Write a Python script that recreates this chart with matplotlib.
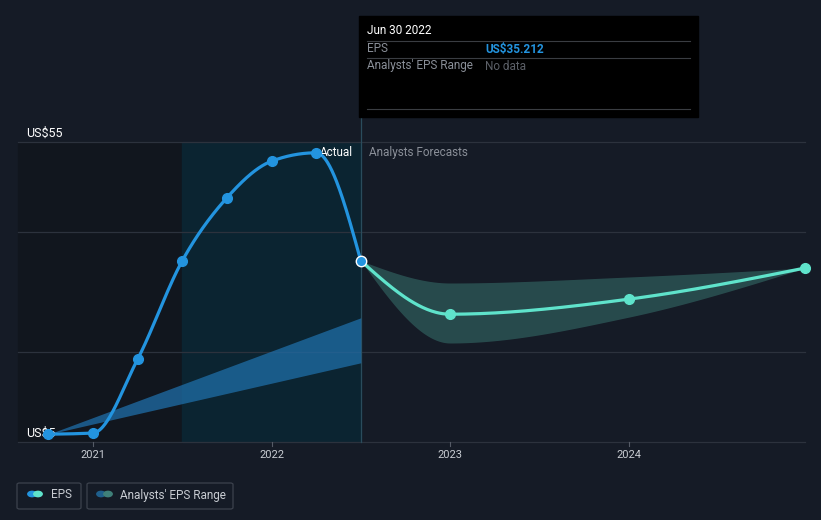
import numpy as np
import matplotlib
matplotlib.use("Agg")
import matplotlib.pyplot as plt
from matplotlib.patches import Rectangle, FancyBboxPatch

plt.rcParams['font.family'] = ['Roboto', 'DejaVu Sans']

# data (years as decimals, EPS in US$)
past_x = [2020.75, 2021.0, 2021.25, 2021.5, 2021.75, 2022.0, 2022.25, 2022.5]
past_eps = [6.3, 6.5, 18.8, 35.2, 45.7, 51.8, 53.2, 35.212]
fc_x = [2022.5, 2023.0, 2024.0, 2024.99]
fc_eps = [35.212, 26.3, 28.8, 34.0]
fc_high = [35.212, 31.5, 32.5, 34.0]
fc_low = [35.212, 21.5, 25.8, 34.0]
past_band_x = [2020.75, 2022.5]
past_band_high = [6.3, 25.7]
past_band_low = [6.3, 18.2]
grid_vals = [5, 20, 40, 55]
year_ticks = [2021, 2022, 2023, 2024]

BG = '#151b26'


def monotone(xs, ys, n=60):
    # d3 style monotoneX curve
    x = np.asarray(xs, float)
    y = np.asarray(ys, float)
    h = np.diff(x)
    s = np.diff(y) / h
    m = np.zeros(len(x))
    for i in range(1, len(x) - 1):
        p = (s[i - 1] * h[i] + s[i] * h[i - 1]) / (h[i - 1] + h[i])
        m[i] = (np.sign(s[i - 1]) + np.sign(s[i])) * min(abs(s[i - 1]), abs(s[i]), 0.5 * abs(p))
    if len(x) > 2:
        m[0] = (3 * s[0] - m[1]) / 2
        m[-1] = (3 * s[-1] - m[-2]) / 2
    else:
        m[:] = s[0]
    ox, oy = [], []
    for i in range(len(x) - 1):
        t = np.linspace(0, 1, n)
        h00 = 2 * t**3 - 3 * t**2 + 1
        h10 = t**3 - 2 * t**2 + t
        h01 = -2 * t**3 + 3 * t**2
        h11 = t**3 - t**2
        ox.append(x[i] + t * h[i])
        oy.append(h00 * y[i] + h10 * h[i] * m[i] + h01 * y[i + 1] + h11 * h[i] * m[i + 1])
    return np.concatenate(ox), np.concatenate(oy)


fig = plt.figure(figsize=(8.21, 5.20), dpi=100, facecolor=BG)
ax = fig.add_axes([0, 0, 1, 1])
ax.set_facecolor(BG)
px_per_year = 178.5
px_per_unit = 6.0
ax.set_xlim(2021 - 93 / px_per_year, 2021 + 728 / px_per_year)
ax.set_ylim(5 - 78 / px_per_unit, 5 + 442 / px_per_unit)
ax.axis('off')

x_left = 2021 - 75 / px_per_year
x_right = 2021 + 712 / px_per_year
x_split = 2021.5
x_now = 2022.5
y_bot = 5
y_top = 55

# shaded past regions
ax.add_patch(Rectangle((x_left, y_bot), x_split - x_left, y_top - y_bot, color='#11161e', zorder=0))
ax.add_patch(Rectangle((x_split, y_bot), x_now - x_split, y_top - y_bot, color='#0b2431', zorder=0))

# gridlines
for g in grid_vals:
    ax.plot([x_left, x_right], [g, g], color='#2c323d', lw=0.9, zorder=1)
ax.plot([x_now, x_now], [y_bot, 5 + (442 - 117) / px_per_unit], color='#2a4c5c', lw=0.9, zorder=1)

# y labels
ax.text(x_left + 8 / px_per_year, 55 + 2 / px_per_unit, 'US$55', color='white', fontsize=9, va='bottom')
ax.text(x_left + 8 / px_per_year, 5 + 2 / px_per_unit, 'US$5', color='white', fontsize=9, va='bottom')

# year ticks
for yr in year_ticks:
    ax.plot([yr, yr], [y_bot, y_bot - 0.7], color='#555b66', lw=0.8)
    ax.text(yr, y_bot - 13 / px_per_unit, str(yr), color='#c8ccd2', fontsize=8, ha='center', va='center')

# past analyst band
ax.fill_between(past_band_x, past_band_low, past_band_high, color='#1f6ea8', alpha=0.75, lw=0, zorder=2)

# forecast band
bx, bh = monotone(fc_x, fc_high)
_, bl = monotone(fc_x, fc_low)
ax.fill_between(bx, bl, bh, color='#2e5b5a', alpha=0.75, lw=0, zorder=2)

# lines
lx, ly = monotone(past_x, past_eps)
ax.plot(lx, ly, color='#2394df', lw=2.3, zorder=3, solid_capstyle='round')
fx, fy = monotone(fc_x, fc_eps)
ax.plot(fx, fy, color='#5fe3cb', lw=2.3, zorder=3, solid_capstyle='round')

ax.plot(past_x[:-1], past_eps[:-1], 'o', color='#2394df', ms=7, zorder=4)
ax.plot(fc_x[1:], fc_eps[1:], 'o', color='#5fe3cb', ms=7, zorder=4)
ax.plot([past_x[-1]], [past_eps[-1]], 'o', color='#2394df', mec='white', mew=1.0, ms=7.5, zorder=5)

ax.text(past_x[6] + 4 / px_per_year, past_eps[6], 'Actual', color='white', fontsize=8.5, va='center')
ax.text(x_now + 8 / px_per_year, past_eps[6], 'Analysts Forecasts', color='#8a8f98', fontsize=8.5, va='center')

# tooltip
W, H = 821, 520


def fx_(p):
    return p / W


def fy_(p):
    return 1 - p / H


fig.patches.append(Rectangle((fx_(359), fy_(117)), (698 - 359) / W, (117 - 16) / H,
                             transform=fig.transFigure, color='black', zorder=10))
for yy in [41, 58, 109]:
    fig.lines.append(plt.Line2D([fx_(367), fx_(690)], [fy_(yy), fy_(yy)], transform=fig.transFigure,
                                color='#3a3d42', lw=0.8, zorder=11))
fig.text(fx_(367), fy_(31), 'Jun 30 2022', color='white', fontsize=8.5, va='center', zorder=12)
fig.text(fx_(367), fy_(49), 'EPS', color='#8a8f98', fontsize=8.5, va='center', zorder=12)
fig.text(fx_(485), fy_(49), 'US$35.212', color='#2394df', fontsize=8.5, va='center', fontweight='bold', zorder=12)
fig.text(fx_(367), fy_(66), "Analysts' EPS Range", color='#8a8f98', fontsize=8.5, va='center', zorder=12)
fig.text(fx_(485), fy_(66), 'No data', color='#5c6068', fontsize=8.5, va='center', zorder=12)

# legend
for (x0, x1) in [(17, 81), (87, 233)]:
    fig.patches.append(FancyBboxPatch((fx_(x0), fy_(509)), (x1 - x0) / W, 26 / H,
                                      boxstyle='round,pad=0,rounding_size=0.003',
                                      transform=fig.transFigure, fc='none', ec='#3c424d', lw=0.9))
fig.patches.append(plt.Circle((fx_(32), fy_(494)), 4.2 / W, transform=fig.transFigure, color='#2394df'))
fig.patches.append(plt.Circle((fx_(38), fy_(494)), 4.2 / W, transform=fig.transFigure, color='#5fe3cb'))
fig.patches.append(plt.Circle((fx_(101), fy_(494)), 4.2 / W, transform=fig.transFigure, color='#1f5f8c'))
fig.patches.append(plt.Circle((fx_(108), fy_(494)), 4.2 / W, transform=fig.transFigure, color='#3f8079'))
fig.text(fx_(51), fy_(495), 'EPS', color='#c8ccd2', fontsize=8.5, va='center')
fig.text(fx_(120), fy_(495), "Analysts' EPS Range", color='#c8ccd2', fontsize=8.5, va='center')

fig.savefig('out.png', dpi=100, facecolor=BG)
